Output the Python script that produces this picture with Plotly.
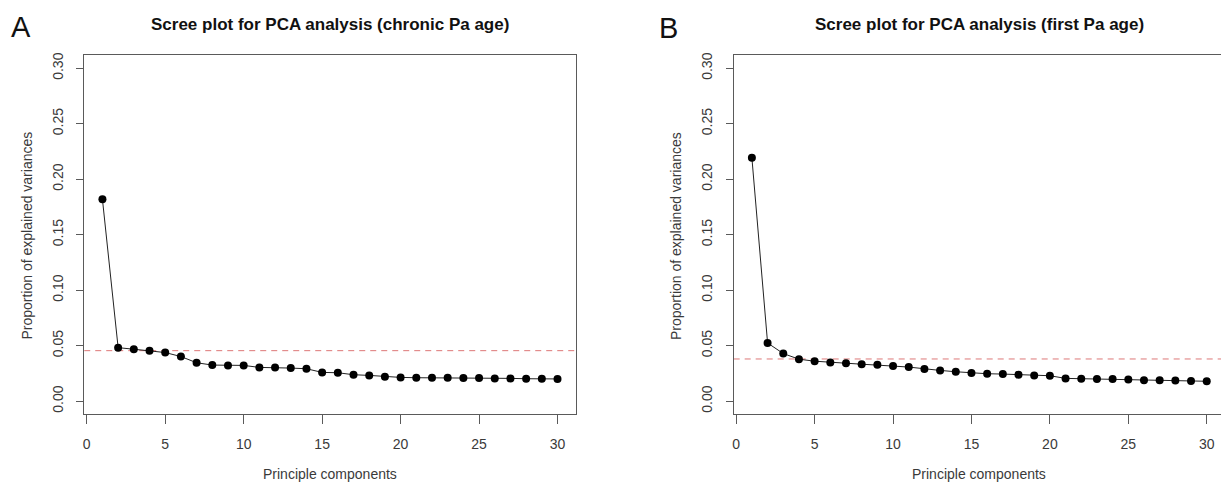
import plotly.graph_objects as go

W, H = 1221, 487

components = list(range(1, 31))
chronic_vals = [0.182, 0.0482, 0.0468, 0.0455, 0.0438, 0.0402, 0.0346, 0.0325, 0.0322, 0.0322,
                0.0304, 0.0304, 0.0298, 0.0292, 0.0259, 0.0256, 0.0238, 0.0232, 0.0220, 0.0214,
                0.0211, 0.0211, 0.0211, 0.0208, 0.0208, 0.0205, 0.0205, 0.0202, 0.0202, 0.0200]
first_vals = [0.2194, 0.0524, 0.0429, 0.0378, 0.0360, 0.0348, 0.0342, 0.0333, 0.0327, 0.0316,
              0.0307, 0.0289, 0.0277, 0.0265, 0.0253, 0.0247, 0.0244, 0.0238, 0.0232, 0.0229,
              0.0205, 0.0202, 0.0200, 0.0200, 0.0194, 0.0188, 0.0188, 0.0185, 0.0182, 0.0179]
chronic_threshold = 0.0455
first_threshold = 0.038

x_ticks = [0, 5, 10, 15, 20, 25, 30]
y_ticks = [0.00, 0.05, 0.10, 0.15, 0.20, 0.25, 0.30]
y_tick_text = ["0.00", "0.05", "0.10", "0.15", "0.20", "0.25", "0.30"]

titles = ["Scree plot for PCA analysis (chronic Pa age)", "Scree plot for PCA analysis (first Pa age)"]
panel_letters = ["A", "B"]
x_title = "Principle components"
y_title = "Proportion of explained variances"

FONT = "Liberation Sans, Arial, Helvetica, sans-serif"
TXT = "#3a3a3a"
AXC = "#5a5a5a"

fig = go.Figure()
for vals, xa, ya in [(chronic_vals, "x", "y"), (first_vals, "x2", "y2")]:
    fig.add_trace(go.Scatter(
        x=components, y=vals, mode="lines+markers", xaxis=xa, yaxis=ya,
        line=dict(color="#222222", width=1),
        marker=dict(color="black", size=8),
        showlegend=False, hoverinfo="skip"))

# plot areas in pixels
A_left, A_right = 83.3, 575.2
B_left, B_right = 733.3, 1221.0
top_px, bot_px = 52.3, 414.0
ydom = [1 - bot_px / H, 1 - top_px / H]

def xaxis(dom, rng, mirror):
    return dict(domain=dom, range=rng, tickvals=x_ticks, ticks="outside", ticklen=9,
                tickcolor=AXC, showline=True, linecolor=AXC, linewidth=1, mirror=mirror,
                showgrid=False, zeroline=False, tickfont=dict(family=FONT, size=14, color=TXT),
                ticklabelstandoff=8)

def yaxis(anchor, mirror):
    return dict(domain=ydom, range=[-0.012, 0.312], tickvals=y_ticks, ticktext=y_tick_text,
                tickangle=-90, ticks="outside", ticklen=7, tickcolor=AXC, showline=True,
                linecolor=AXC, linewidth=1, mirror=mirror, showgrid=False, zeroline=False,
                anchor=anchor, tickfont=dict(family=FONT, size=14, color=TXT),
                ticklabelstandoff=8)

bx_per_unit = (1206.7 - 735.7) / 30
b_upper = (B_right - 735.7) / bx_per_unit

fig.update_layout(
    width=W, height=H, margin=dict(l=0, r=0, t=0, b=0),
    paper_bgcolor="white", plot_bgcolor="white",
    xaxis=xaxis([A_left / W, A_right / W], [-0.16, 31.16], True) | dict(anchor="y"),
    yaxis=yaxis("x", True),
    xaxis2=xaxis([B_left / W, 1.0], [-0.16, b_upper], True) | dict(anchor="y2"),
    yaxis2=yaxis("x2", False),
)

for thr, xr, yr in [(chronic_threshold, "x domain", "y"), (first_threshold, "x2 domain", "y2")]:
    fig.add_shape(type="line", xref=xr, yref=yr, x0=0, x1=1, y0=thr, y1=thr,
                  line=dict(color="rgba(215,95,95,0.85)", width=1, dash="6px,5px"), layer="below")

ann = []
centers = [(A_left + A_right) / 2, (B_left + 1224.9) / 2]
for i in range(2):
    ann.append(dict(text="<b>%s</b>" % titles[i], x=centers[i] / W, y=1 - 22 / H, xref="paper", yref="paper",
                    xanchor="center", yanchor="middle", showarrow=False,
                    font=dict(family=FONT, size=17, color="#111111")))
    ann.append(dict(text=x_title, x=centers[i] / W, y=1 - 474 / H, xref="paper", yref="paper",
                    xanchor="center", yanchor="middle", showarrow=False,
                    font=dict(family=FONT, size=14, color=TXT)))
ann.append(dict(text=y_title, x=26 / W, y=1 - 234 / H, xref="paper", yref="paper", textangle=-90,
                xanchor="center", yanchor="middle", showarrow=False,
                font=dict(family=FONT, size=14, color=TXT)))
ann.append(dict(text=y_title, x=675 / W, y=1 - 234 / H, xref="paper", yref="paper", textangle=-90,
                xanchor="center", yanchor="middle", showarrow=False,
                font=dict(family=FONT, size=14, color=TXT)))
ann.append(dict(text=panel_letters[0], x=20 / W, y=1 - 24 / H, xref="paper", yref="paper",
                xanchor="center", yanchor="middle", showarrow=False,
                font=dict(family=FONT, size=29, color="#111111")))
ann.append(dict(text=panel_letters[1], x=668 / W, y=1 - 25 / H, xref="paper", yref="paper",
                xanchor="center", yanchor="middle", showarrow=False,
                font=dict(family=FONT, size=29, color="#111111")))
fig.update_layout(annotations=ann)

fig.write_html("out.html")
